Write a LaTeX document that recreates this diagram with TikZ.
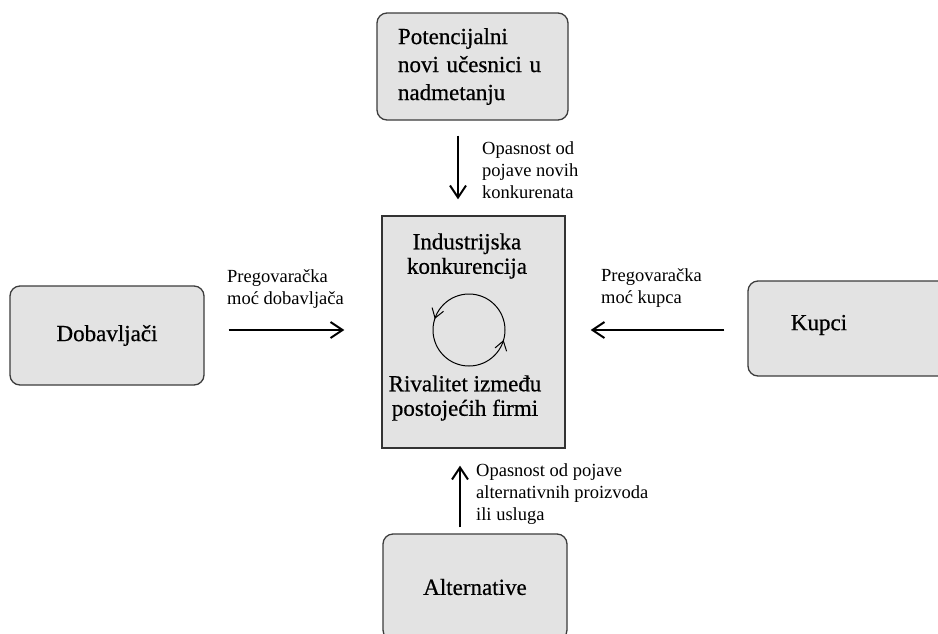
\documentclass[tikz,border=0pt]{standalone}
\usepackage{fontspec}
\setmainfont{Liberation Serif}
\newfontfamily\heavyserif{Liberation Serif}[FakeBold=0.6]
\usetikzlibrary{arrows.meta,decorations.markings}
\definecolor{boxfill}{RGB}{227,227,227}
\definecolor{boxline}{RGB}{60,60,60}
\begin{document}
\begin{tikzpicture}[x=1pt,y=-1pt,
  box/.style={draw=boxline, fill=boxfill, line width=1.3pt, rounded corners=10pt,
    inner sep=0pt, font=\heavyserif\fontsize{23}{28}\selectfont},
  core/.style={draw=black!80, fill=boxfill, line width=1.3pt, inner sep=0pt},
  force/.style={line width=2pt, -{Straight Barb[length=12pt,width=16pt]}},
  lbl/.style={anchor=west, align=left, inner sep=0pt, font=\fontsize{18.5}{22}\selectfont},
  big/.style={align=center, inner sep=0pt, font=\heavyserif\fontsize{23}{24.5}\selectfont},
  cyclearrow/.style={line width=1pt, postaction={decorate},
    decoration={markings,
      mark=at position 0.45 with {\arrow{Straight Barb[length=9pt,width=12pt]}},
      mark=at position 0.955 with {\arrow{Straight Barb[length=9pt,width=12pt]}}}}]

\useasboundingbox (0,0) rectangle (938,633);
\fill[white] (0,0) rectangle (938,633);
\clip (0,0) rectangle (938,633);

% the five forces
\node[box, minimum width=191pt, minimum height=107pt, align=left, text width=149pt] (entrants) at (472.5,66.5)
  {Potencijalni\\novi učesnici u\\nadmetanju};
\node[box, minimum width=194pt, minimum height=99pt] (suppliers) at (107,335.5) {Dobavljači};
\node[box, minimum width=212pt, minimum height=95pt] (buyers) at (854,328.5) {};
\node[inner sep=0pt, font=\heavyserif\fontsize{23}{28}\selectfont] (buyerstext) at (819,325) {Kupci};
\node[box, minimum width=184pt, minimum height=106pt] (substitutes) at (475,587) {Alternative};

% central rivalry box
\node[core, minimum width=183pt, minimum height=232pt] (industry) at (473.5,332) {};
\node[big] (industrytitle) at (467,256) {Industrijska\\konkurencija};
\node[big] (rivalry) at (465,398) {Rivalitet između\\postojećih firmi};
\coordinate (cyc) at (469,330);
\draw[cyclearrow] (cyc) circle[radius=36pt];

% pressure arrows
\draw[force, shorten <=15pt, shorten >=16pt] ([xshift=-14.5pt]entrants.south) -- ([xshift=-15.5pt]industry.north);
\draw[force, shorten <=6pt, shorten >=17pt] ([xshift=-15pt]substitutes.north) -- ([xshift=-13.5pt]industry.south);
\draw[force, shorten <=24pt, shorten >=37pt] ([yshift=5.5pt]suppliers.east) -- ([yshift=2pt]industry.west);
\draw[force, shorten <=23pt, shorten >=25pt] ([yshift=-1.5pt]buyers.west) -- ([yshift=2pt]industry.east);

% arrow captions
\node[lbl] (supplierpower) at (227,289.5) {Pregovaračka\\moć dobavljača};
\node[lbl] (buyerpower) at (601,288) {Pregovaračka\\moć kupca};
\node[lbl] (entrythreat) at (482,170) {Opasnost od\\pojave novih\\konkurenata};
\node[lbl] (substitutethreat) at (476,494) {Opasnost od pojave\\alternativnih proizvoda\\ili usluga};
\end{tikzpicture}
\end{document}
